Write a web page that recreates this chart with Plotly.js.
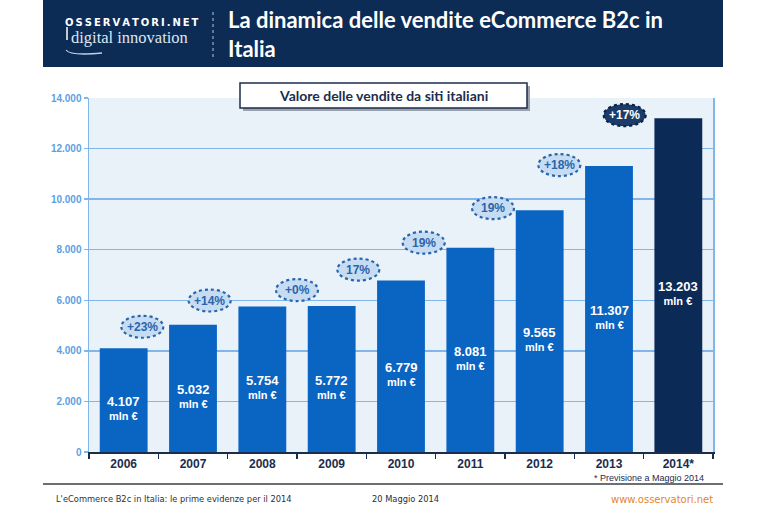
<!DOCTYPE html>
<html>
<head>
<meta charset="utf-8">
<script src="https://cdn.plot.ly/plotly-3.0.1.min.js"></script>
<style>html,body{margin:0;padding:0;background:#fff;}#chart{width:767px;height:511px;}</style>
</head>
<body>
<div id="chart"></div>
<script>
// ---- data ----
const years = ['2006','2007','2008','2009','2010','2011','2012','2013','2014*'];
const sales = [4107, 5032, 5754, 5772, 6779, 8081, 9565, 11307, 13203]; // mln €
const growthLabels = ['+23%','+14%','+0%','17%','19%','19%','+18%','+17%']; // growth into years[i+1]
const titleText = 'La dinamica delle vendite eCommerce B2c in<br>Italia';
const boxTitle = 'Valore delle vendite da siti italiani';
const noteText = '* Previsione a Maggio 2014';
const footerLeft = "L'eCommerce B2c in Italia: le prime evidenze per il 2014";
const footerMid = '20 Maggio 2014';
const footerRight = 'www.osservatori.net';

// ---- layout helpers (pixel geometry) ----
const L = 89, T = 98, W = 624, H = 354;
const px = x => (x - L) / W;
const py = y => (T + H - y) / H;
const badgeDx = [-16, -18, 0, -8, -12, -12, -15, -19];
const badgeDy = [-2, 6, 16, 11, 5, 2, 1, 3];

function fmt(n){ return String(n).replace(/\B(?=(\d{3})+(?!\d))/g, '.'); }

const idx = years.map((_, i) => i);
const barColors = sales.map((v,i) => i === sales.length-1 ? '#0b2b56' : '#0a64c2');

const trace = {
  type: 'bar', x: idx, y: sales,
  marker: {color: barColors, line: {width: 0}},
  hoverinfo: 'none'
};

const shapes = [];
const annotations = [];

// header band
shapes.push({type:'rect', xref:'paper', yref:'paper', x0:px(43), x1:px(723), y0:py(67), y1:py(0), fillcolor:'#0c2b55', line:{width:0}, layer:'above'});
// dotted separator
shapes.push({type:'line', xref:'paper', yref:'paper', x0:px(213), x1:px(213), y0:py(12), y1:py(58), line:{color:'#7f93b3', width:1.5, dash:'dot'}, layer:'above'});
// logo swoosh
shapes.push({type:'path', xref:'paper', yref:'paper', path:`M ${px(66)} ${py(50)} Q ${px(70)} ${py(56)} ${px(102)} ${py(53)}`, line:{color:'#c9d3e2', width:1.3}, layer:'above'});
// logo key stem
shapes.push({type:'line', xref:'paper', yref:'paper', x0:px(67), x1:px(67), y0:py(27), y1:py(40), line:{color:'#ffffff', width:1.5}, layer:'above'});

// title box with shadow
shapes.push({type:'rect', xref:'paper', yref:'paper', x0:px(243), x1:px(530), y0:py(111), y1:py(86), fillcolor:'#9aa3ad', line:{width:0}, layer:'above'});
shapes.push({type:'rect', xref:'paper', yref:'paper', x0:px(240), x1:px(527), y0:py(108), y1:py(83), fillcolor:'#ffffff', line:{color:'#1b2d4d', width:1.5}, layer:'above'});

// footer line
shapes.push({type:'line', xref:'paper', yref:'paper', x0:px(43), x1:px(723), y0:py(484), y1:py(484), line:{color:'#3b3f46', width:1.5}, layer:'above'});

// growth badges
growthLabels.forEach((g,i) => {
  const last = i === growthLabels.length-1;
  shapes.push({type:'circle', xref:'x', yref:'y', xsizemode:'pixel', ysizemode:'pixel',
    xanchor: i+0.5, yanchor: sales[i+1],
    x0: badgeDx[i]-21, x1: badgeDx[i]+21, y0: badgeDy[i]-11, y1: badgeDy[i]+11,
    fillcolor: last ? '#1b3c68' : '#c6dcf2',
    line:{color: last ? '#0b2244' : '#2a64ab', width:2.2, dash:'dot'}, layer:'above'});
  annotations.push({xref:'x', yref:'y', x: i+0.5, y: sales[i+1], xshift: badgeDx[i], yshift: badgeDy[i],
    text: g, showarrow:false, xanchor:'center', yanchor:'middle',
    font:{family:'Liberation Sans, Arial, sans-serif', size:12, color: last ? '#ffffff' : '#2a64ab', weight:700}});
});

// value labels
sales.forEach((v,i) => {
  annotations.push({xref:'x', yref:'y', x: i, y: v/2, yshift:-8,
    text: `<span style="font-size:13px">${fmt(v)}</span><br>mln €`, showarrow:false,
    xanchor:'center', yanchor:'middle',
    font:{family:'Liberation Sans, Arial, sans-serif', size:11, color:'#ffffff', weight:700}});
});

// header texts
annotations.push({xref:'paper', yref:'paper', x:px(226), y:py(34), xanchor:'left', yanchor:'middle', align:'left',
  text: titleText, showarrow:false, font:{family:'Lato, sans-serif', size:22, color:'#ffffff', weight:700}});
annotations.push({xref:'paper', yref:'paper', x:px(63), y:py(22), xanchor:'left', yanchor:'middle',
  text: 'OSSERVATORI.NET'.split('').join('\u2009'), showarrow:false,
  font:{family:'DejaVu Sans, sans-serif', size:10, color:'#ffffff', weight:700}});
annotations.push({xref:'paper', yref:'paper', x:px(69), y:py(37), xanchor:'left', yanchor:'middle',
  text: 'digital innovation', showarrow:false,
  font:{family:'Liberation Serif, DejaVu Serif, serif', size:16.5, color:'#dfe6f0'}});

// box title
annotations.push({xref:'paper', yref:'paper', x:px(383.5), y:py(95.5), xanchor:'center', yanchor:'middle',
  text: boxTitle, showarrow:false, font:{family:'Lato, sans-serif', size:14, color:'#1b2d4d', weight:700}});

// note and footer
annotations.push({xref:'paper', yref:'paper', x:px(706), y:py(478), xanchor:'right', yanchor:'middle',
  text: noteText, showarrow:false, font:{family:'Liberation Sans, Arial, sans-serif', size:9, color:'#1b2d4d'}});
annotations.push({xref:'paper', yref:'paper', x:px(54), y:py(499), xanchor:'left', yanchor:'middle',
  text: footerLeft, showarrow:false, font:{family:'DejaVu Sans, sans-serif', size:8.3, color:'#2b2f36'}});
annotations.push({xref:'paper', yref:'paper', x:px(370), y:py(499), xanchor:'left', yanchor:'middle',
  text: footerMid, showarrow:false, font:{family:'DejaVu Sans, sans-serif', size:8.3, color:'#2b2f36'}});
annotations.push({xref:'paper', yref:'paper', x:px(715), y:py(499), xanchor:'right', yanchor:'middle',
  text: footerRight, showarrow:false, font:{family:'DejaVu Sans, sans-serif', size:10, color:'#e5852c'}});

const boundaries = [-0.5].concat(idx.map(i => i + 0.5));

const layout = {
  width: 767, height: 511,
  margin: {l: L, r: 767 - L - W, t: T, b: 511 - T - H, pad: 0},
  paper_bgcolor: '#ffffff', plot_bgcolor: '#e9f1f9',
  separators: ',.',
  bargap: 0.31,
  showlegend: false,
  xaxis: {type:'linear', range:[-0.5, years.length - 0.5], tickmode:'array', tickvals: idx, ticktext: years,
    showgrid:false, zeroline:false, showline:true, linecolor:'#1b2d4d', linewidth:2, ticks:'',
    minor:{tickmode:'array', tickvals: boundaries, ticks:'outside', ticklen:5, tickwidth:1.5, tickcolor:'#1b2d4d', showgrid:false},
    tickfont:{family:'Liberation Sans, Arial, sans-serif', size:12, color:'#1b2d4d', weight:700}, fixedrange:true},
  yaxis: {range:[0,14000], dtick:2000, tickformat:',', showgrid:true, gridcolor:'#80b6ea', gridwidth:1.3,
    zeroline:false, showline:true, mirror:true, linecolor:'#80b6ea', linewidth:1.5,
    ticks:'outside', ticklen:4, tickcolor:'#80b6ea', tickwidth:1.3,
    tickfont:{family:'Liberation Sans, Arial, sans-serif', size:10, color:'#5b9fe4', weight:700}, fixedrange:true},
  shapes: shapes,
  annotations: annotations
};

Plotly.newPlot('chart', [trace], layout, {displayModeBar:false, staticPlot:true});
</script>
</body>
</html>
